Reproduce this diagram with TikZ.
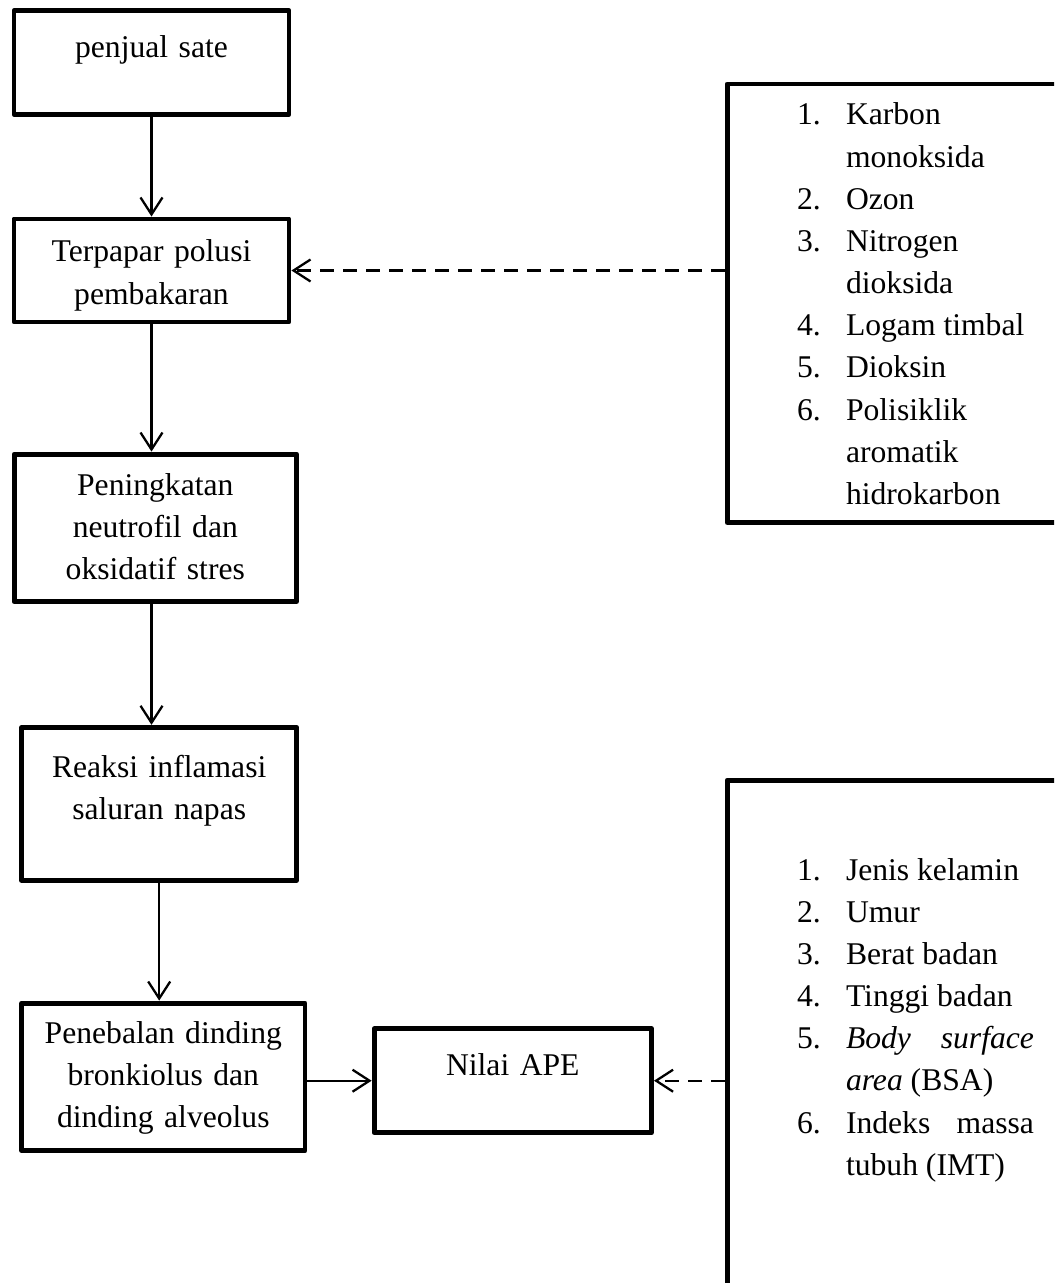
\documentclass[tikz,border=0pt]{standalone}
\usepackage{fontspec}
\setmainfont{Liberation Serif}
\usetikzlibrary{arrows.meta}
\hyphenpenalty=10000
\exhyphenpenalty=10000
\tolerance=10000
\hbadness=10000

% one numbered entry of a list box, with hanging indent
\newcommand{\listitem}[2]{\hangindent=0.98cm\hangafter=1\noindent\makebox[0.98cm][l]{#1}#2\par}

\tikzset{
  box/.style={
    rectangle,
    draw,
    line width=2.8pt,
    line join=round,
    inner sep=0pt,
    text height=0pt,
    font=\fontsize{18}{24}\selectfont
  },
  flowbox/.style={box, align=center, text width=5.2cm},
  listbox/.style={box, align=justify, text width=4.74cm},
  arrow/.style={-{Straight Barb[length=0.34cm,width=0.44cm]}, line width=1.3pt},
  dashedarrow/.style={arrow, dash pattern=on 0.28cm off 0.18cm}
}

\begin{document}
\begin{tikzpicture}[x=0.02cm, y=-0.02cm]
  \useasboundingbox (0,0) rectangle (1054,1283);
  \clip (0,0) rectangle (1054,1283);

  % main chain
  \node[flowbox, minimum width=5.5cm, minimum height=2.07cm, text depth=0.18cm] (seller) at (151.5,62.4) {penjual sate};
  \node[flowbox, minimum width=5.5cm, minimum height=2.06cm, text depth=0.34cm] (exposure) at (151.5,270.5) {Terpapar polusi\\pembakaran};
  \node[flowbox, minimum width=5.65cm, minimum height=2.95cm, text depth=1.31cm] (increase) at (155.3,527.8) {Peningkatan\\neutrofil dan\\oksidatif stres};
  \node[flowbox, minimum width=5.5cm, minimum height=3.06cm, text depth=1.07cm] (inflammation) at (159.2,803.8) {Reaksi inflamasi\\saluran napas};
  \node[flowbox, minimum width=5.67cm, minimum height=2.95cm, text depth=1.35cm] (thickening) at (163.3,1076.8) {Penebalan dinding\\bronkiolus dan\\dinding alveolus};
  \node[flowbox, minimum width=5.55cm, minimum height=2.08cm, text depth=0.19cm] (ape) at (512.8,1080.7) {Nilai APE};

  % side lists
  \node[listbox, minimum width=7.54cm, minimum height=8.77cm, text depth=7.13cm] (pollutants) at (915.5,303.2) {%
    \listitem{1.}{Karbon monoksida}%
    \listitem{2.}{Ozon}%
    \listitem{3.}{Nitrogen dioksida}%
    \listitem{4.}{Logam timbal}%
    \listitem{5.}{Dioksin}%
    \listitem{6.}{Polisiklik aromatik hidrokarbon}};
  \node[listbox, minimum width=7.54cm, minimum height=10.8cm, text depth=6.8cm] (factors) at (915.5,1050) {%
    \listitem{1.}{Jenis kelamin}%
    \listitem{2.}{Umur}%
    \listitem{3.}{Berat badan}%
    \listitem{4.}{Tinggi badan}%
    \listitem{5.}{\textit{Body surface area} (BSA)}%
    \listitem{6.}{Indeks massa tubuh (IMT)}};

  \draw[arrow] (seller) -- (exposure);
  \draw[arrow] (exposure.south) -- (exposure.south |- increase.north);
  \draw[arrow] (exposure.south |- increase.south) -- (exposure.south |- inflammation.north);
  \draw[arrow] (inflammation.south) -- (inflammation.south |- thickening.north);
  \draw[arrow] (thickening.east |- ape.west) -- (ape.west);
  \draw[dashedarrow] (pollutants.west |- exposure.east) -- (exposure.east);
  \draw[dashedarrow] (factors.west |- ape.east) -- (ape.east);
\end{tikzpicture}
\end{document}
